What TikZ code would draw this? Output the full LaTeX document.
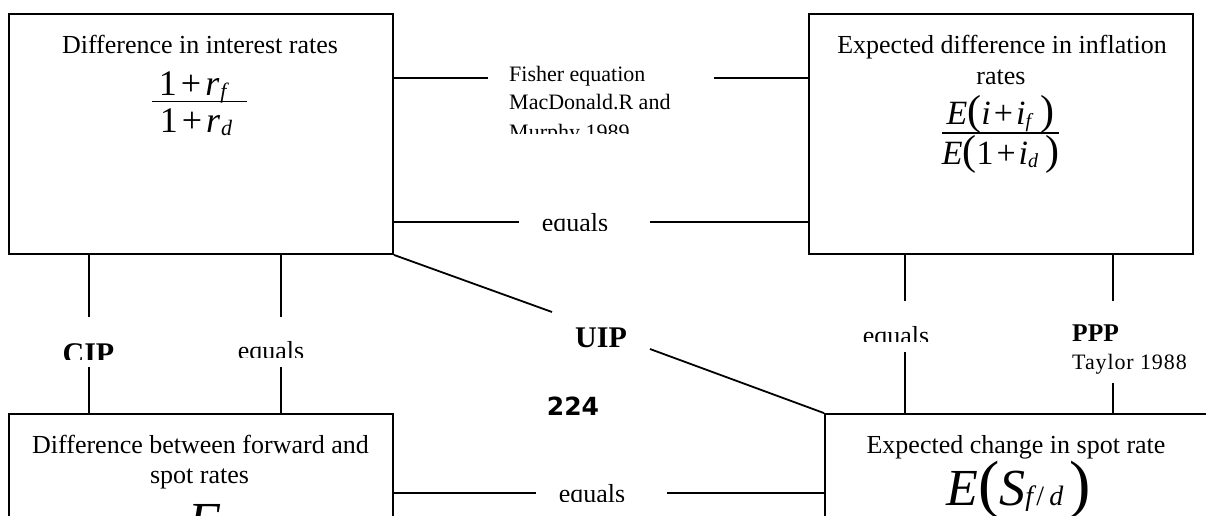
\documentclass[tikz,border=0pt]{standalone}
\usepackage{fontspec}
\setmainfont{Liberation Serif}
\newfontfamily\numfont{DejaVu Sans}
\begin{document}
\begin{tikzpicture}[x=1pt,y=-1pt,
  box/.style={draw, line width=1.8pt, minimum width=384pt, minimum height=240pt, inner sep=0pt},
  conn/.style={line width=1.8pt},
  lbl/.style={inner sep=0pt, anchor=base, font=\fontsize{26}{30}\selectfont},
  smalltxt/.style={inner sep=0pt, anchor=base west, font=\fontsize{22}{26}\selectfont},
  boldlbl/.style={inner sep=0pt, anchor=base, font=\fontsize{30}{34}\selectfont\bfseries},
  formula/.style={inner sep=0pt, anchor=base, font=\fontsize{36}{40}\selectfont},
  bar/.style={line width=1.6pt}]
\path[use as bounding box] (0,0) rectangle (1206,515);
\clip (0,0) rectangle (1206,515);

% boxes
\node[box] (tl) at (201,134) {};
\node[box] (tr) at (1001,134) {};
\node[box] (bl) at (201,534) {};
\node[box] (br) at (1017,534) {};

% box texts
\node[lbl] (tlt) at (200,53) {Difference in interest rates};
\node[lbl] (trt1) at (1002,53) {Expected difference in inflation};
\node[lbl] (trt2) at (1001,84) {rates};
\node[lbl] (blt1) at (200.5,453) {Difference between forward and};
\node[lbl] (blt2) at (199.5,483) {spot rates};
\node[lbl] (brt) at (1016,453) {Expected change in spot rate};

% formulas
\node[formula] (tlnum) at (194,95) {1\kern4pt+\kern4pt\textit{r}\kern1pt\raisebox{-3pt}{\fontsize{22}{24}\selectfont\textit{f}}};
\node[formula] (tlden) at (196,132) {1\kern4pt+\kern4pt\textit{r}\kern1pt\raisebox{-3pt}{\fontsize{22}{24}\selectfont\textit{d}}};
\draw[bar] (152,101.5) -- (247,101.5);

\node[formula, font=\fontsize{34}{38}\selectfont] (trnum) at (1000.5,124) {\textit{E}{\fontsize{42}{44}\selectfont(}\textit{i}\kern3pt+\kern3pt\textit{i}\raisebox{-3pt}{\fontsize{20}{22}\selectfont\textit{f}}\kern7pt{\fontsize{42}{44}\selectfont)}};
\node[formula, font=\fontsize{34}{38}\selectfont] (trden) at (1000.5,164) {\textit{E}{\fontsize{42}{44}\selectfont(}1\kern3pt+\kern3pt\textit{i}\raisebox{-3pt}{\fontsize{20}{22}\selectfont\textit{d}}\kern7pt{\fontsize{42}{44}\selectfont)}};
\draw[bar] (942,133) -- (1059,133);

\node[inner sep=0pt, anchor=base] (brf) at (1018.5,505) {{\fontsize{52}{56}\selectfont\textit{E}}{\fontsize{64}{66}\selectfont(}{\fontsize{52}{56}\selectfont\textit{S}}{\fontsize{28}{30}\selectfont\textit{f}/\kern5pt\textit{d}}\kern6pt{\fontsize{64}{66}\selectfont)}};
\node[inner sep=0pt, anchor=base west] (blf) at (188,538) {{\fontsize{52}{56}\selectfont\textit{F}}\kern12pt\raisebox{3pt}{\fontsize{28}{30}\selectfont\textit{t}}};

% labels (clipped text boxes)
\begin{scope}
  \clip (495,55) rectangle (710,133);
  \node[smalltxt] (fisher1) at (509,81) {Fisher equation};
  \node[smalltxt] (fisher2) at (509,109.5) {MacDonald.R and};
  \node[smalltxt] (fisher3) at (509,139) {Murphy 1989};
\end{scope}
\begin{scope}
  \clip (520,195) rectangle (650,230);
  \node[lbl] (eqtop) at (575,231) {equals};
\end{scope}
\begin{scope}
  \clip (40,320) rectangle (140,359);
  \node[boldlbl] (cip) at (88.5,363) {CIP};
\end{scope}
\begin{scope}
  \clip (220,320) rectangle (330,357.5);
  \node[lbl] (eqleft) at (271,359) {equals};
\end{scope}
\begin{scope}
  \clip (840,305) rectangle (960,341);
  \node[lbl] (eqright) at (896,344) {equals};
\end{scope}
\begin{scope}
  \clip (540,470) rectangle (660,501);
  \node[lbl] (eqbot) at (592,502) {equals};
\end{scope}
\node[inner sep=0pt, anchor=base west, font=\fontsize{25.5}{30}\selectfont\bfseries] (ppp) at (1072,341) {PPP};
\node[smalltxt, font=\fontsize{22}{26}\selectfont\addfontfeature{LetterSpace=4}] (taylor) at (1072,369) {Taylor 1988};
\node[boldlbl] (uip) at (601,347) {UIP};
\node[inner sep=0pt, anchor=base, font=\numfont\bfseries\fontsize{25}{30}\selectfont] (page) at (573,415) {224};

% connectors
\coordinate (fA) at (488,78);
\coordinate (fB) at (714,78);
\draw[conn] (fA -| tl.east) -- (fA);
\draw[conn] (fB) -- (fB -| tr.west);
\coordinate (eA) at (519,222);
\coordinate (eB) at (650,222);
\draw[conn] (eA -| tl.east) -- (eA);
\draw[conn] (eB) -- (eB -| tr.west);
\coordinate (cA) at (89,317);
\coordinate (cB) at (89,367);
\draw[conn] (cA |- tl.south) -- (cA);
\draw[conn] (cB) -- (cB |- bl.north);
\coordinate (lA) at (281,317);
\coordinate (lB) at (281,367);
\draw[conn] (lA |- tl.south) -- (lA);
\draw[conn] (lB) -- (lB |- bl.north);
\coordinate (rA) at (905,301);
\coordinate (rB) at (905,352);
\draw[conn] (rA |- tr.south) -- (rA);
\draw[conn] (rB) -- (rB |- br.north);
\coordinate (pA) at (1113,301);
\coordinate (pB) at (1113,383);
\draw[conn] (pA |- tr.south) -- (pA);
\draw[conn] (pB) -- (pB |- br.north);
\coordinate (bA) at (536,493);
\coordinate (bB) at (667,493);
\draw[conn] (bA -| bl.east) -- (bA);
\draw[conn] (bB) -- (bB -| br.west);
\coordinate (uA) at (552,312);
\coordinate (uB) at (650,349);
\draw[conn] (tl.south east) -- (uA);
\draw[conn] (uB) -- (br.north west);
\end{tikzpicture}
\end{document}
